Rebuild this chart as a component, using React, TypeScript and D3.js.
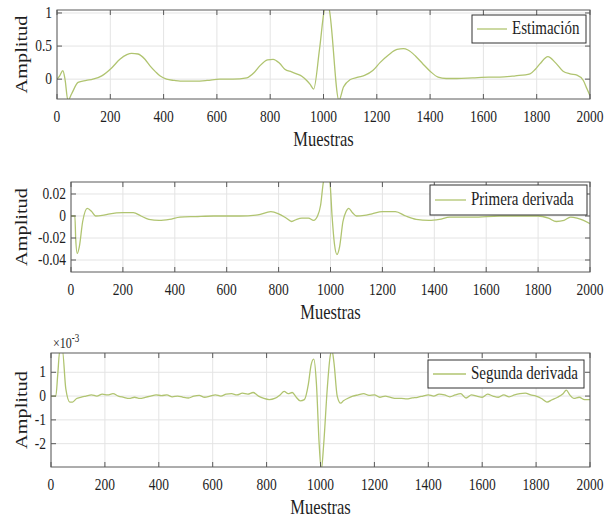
import React from "react";
import * as d3 from "d3";

// ---------- data ----------
const xTicks = [0, 200, 400, 600, 800, 1000, 1200, 1400, 1600, 1800, 2000];

const estTicks = [0, 0.5, 1];
const estTickLabels = ["0", "0.5", "1"];
const estX = [0, 10, 22, 30, 41, 55, 79, 110, 135, 168, 205, 236, 262, 280, 304, 330, 349, 370, 386, 411, 440, 462, 520, 563, 611, 660, 712, 740, 761, 790, 811, 835, 855, 880, 899, 920, 937, 950, 963, 985, 1005, 1012, 1020, 1058, 1075, 1099, 1130, 1156, 1185, 1212, 1245, 1276, 1300, 1317, 1345, 1373, 1400, 1430, 1460, 1501, 1560, 1620, 1662, 1720, 1775, 1795, 1812, 1842, 1870, 1899, 1925, 1951, 1975, 1989, 2000];
const estY = [0, 0.05, 0.13, 0.0, -0.32, -0.22, -0.05, -0.02, 0.0, 0.05, 0.17, 0.3, 0.37, 0.39, 0.38, 0.3, 0.2, 0.11, 0.05, 0.0, -0.02, -0.03, -0.03, -0.02, 0.0, 0.0, 0.02, 0.1, 0.2, 0.29, 0.3, 0.24, 0.15, 0.11, 0.08, 0.04, -0.02, -0.08, -0.15, 0.45, 1.08, 1.12, 1.08, -0.32, -0.12, -0.01, 0.03, 0.06, 0.13, 0.25, 0.37, 0.45, 0.46, 0.44, 0.35, 0.23, 0.12, 0.03, 0.01, 0.01, 0.02, 0.03, 0.03, 0.05, 0.08, 0.15, 0.23, 0.34, 0.25, 0.12, 0.08, 0.06, -0.02, -0.15, -0.25];

const d1Ticks = [-0.04, -0.02, 0, 0.02];
const d1TickLabels = ["-0.04", "-0.02", "0", "0.02"];
const d1X = [0, 15, 18, 24, 32, 45, 63, 80, 95, 120, 150, 200, 240, 270, 300, 340, 380, 420, 480, 550, 650, 720, 770, 800, 830, 850, 870, 890, 915, 935, 950, 962, 972, 985, 998, 1006, 1015, 1025, 1035, 1048, 1060, 1070, 1085, 1100, 1130, 1160, 1200, 1250, 1290, 1330, 1380, 1420, 1460, 1550, 1650, 1750, 1800, 1840, 1870, 1900, 1925, 1950, 1975, 2000];
const d1Y = [0, 0, -0.02, -0.034, -0.028, -0.005, 0.007, 0.004, 0.0, 0.0005, 0.002, 0.003, 0.003, 0.0, -0.003, -0.004, -0.003, -0.001, -0.0005, 0.0, 0.0, 0.001, 0.004, 0.002, -0.002, -0.005, -0.003, -0.002, -0.002, -0.004, 0.0, 0.01, 0.03, 0.04, 0.03, 0.0, -0.025, -0.035, -0.028, -0.005, 0.004, 0.007, 0.003, 0.0, 0.0005, 0.002, 0.004, 0.004, 0.0, -0.003, -0.004, -0.003, -0.001, -0.001, 0.0, 0.0, 0.0, -0.002, -0.005, -0.004, -0.001, -0.002, -0.004, -0.007];

// second derivative, in units of 1e-3
const d2Ticks = [-2, -1, 0, 1];
const d2TickLabels = ["-2", "-1", "0", "1"];
const d2X = [0, 18, 25, 33, 42, 55, 70, 80, 95, 110, 130, 150, 170, 190, 210, 230, 250, 270, 290, 310, 330, 350, 370, 390, 410, 430, 450, 470, 490, 510, 530, 550, 570, 590, 610, 630, 650, 670, 690, 710, 730, 750, 770, 790, 810, 830, 850, 865, 880, 895, 910, 925, 940, 955, 965, 975, 985, 995, 1003, 1012, 1025, 1035, 1042, 1050, 1062, 1075, 1085, 1100, 1120, 1140, 1160, 1180, 1200, 1220, 1240, 1260, 1280, 1300, 1320, 1340, 1360, 1380, 1400, 1420, 1440, 1460, 1480, 1500, 1520, 1540, 1560, 1580, 1600, 1620, 1640, 1660, 1680, 1700, 1720, 1740, 1760, 1780, 1800, 1820, 1840, 1860, 1880, 1900, 1912, 1925, 1940, 1960, 1980, 2000];
const d2Y = [0, 0, 0.9, 1.95, 1.95, 0.3, -0.25, -0.25, -0.1, -0.05, 0.0, 0.05, 0.0, 0.08, 0.05, 0.1, 0.0, -0.05, -0.1, -0.05, -0.1, -0.05, 0.0, 0.05, 0.02, 0.05, -0.03, 0.0, -0.05, -0.08, 0.0, 0.03, -0.05, 0.0, 0.05, 0.0, 0.08, 0.1, 0.05, 0.12, 0.08, 0.15, 0.0, -0.1, -0.15, -0.1, 0.05, 0.2, 0.1, 0.15, -0.05, -0.2, -0.15, 0.5, 1.3, 1.55, 0.5, -2.0, -3.1, -2.0, 0.3, 1.6, 1.95, 1.4, 0.0, -0.3, -0.2, -0.1, 0.0, 0.05, 0.1, 0.03, 0.05, -0.05, 0.0, -0.05, -0.1, -0.1, -0.12, -0.08, -0.05, 0.0, 0.05, 0.0, 0.08, 0.05, -0.03, 0.05, 0.1, -0.08, 0.05, 0.0, -0.05, 0.08, 0.0, -0.05, 0.05, -0.03, 0.05, 0.1, 0.12, 0.05, 0.0, -0.1, -0.25, -0.15, -0.05, 0.1, 0.25, 0.05, -0.1, -0.05, -0.15, -0.15];

// ---------- layout / style ----------
const W = 607;
const H = 521;
const FONT = "Liberation Serif, DejaVu Serif, serif";
const SY = 1.27;
const LINE = "#b0c470";
const AXIS = "#5a5a5a";
const GRID = "#e4e4e4";
const TXT = "#1e1e1e";

type Panel = {
  left: number; right: number; top: number; bottom: number;
  yDomain: [number, number];
  xs: number[]; ys: number[];
  yTicks: number[]; yLabels: string[];
  legend: string;
  lg: { x: number; y: number; w: number; h: number; lineW: number };
  exponent?: boolean;
};

const panels: Panel[] = [
  {
    left: 57, right: 590, top: 10, bottom: 99, yDomain: [-0.3, 1.045],
    xs: estX, ys: estY, yTicks: estTicks, yLabels: estTickLabels, legend: "Estimación",
    lg: { x: 472, y: 15, w: 114, h: 28, lineW: 30 },
  },
  {
    left: 71, right: 590, top: 182, bottom: 272, yDomain: [-0.0509, 0.0309],
    xs: d1X, ys: d1Y, yTicks: d1Ticks, yLabels: d1TickLabels, legend: "Primera derivada",
    lg: { x: 430, y: 185, w: 157, h: 30, lineW: 31 },
  },
  {
    left: 51, right: 590, top: 353, bottom: 467, yDomain: [-2.98, 1.81],
    xs: d2X, ys: d2Y, yTicks: d2Ticks, yLabels: d2TickLabels, legend: "Segunda derivada",
    lg: { x: 428, y: 360, w: 156, h: 28, lineW: 33 },
    exponent: true,
  },
];

function T(props: { x: number; y: number; size: number; anchor?: string; rotate?: boolean; children: React.ReactNode }) {
  const { x, y, size, anchor = "middle", rotate = false, children } = props;
  const tr = rotate
    ? `translate(${x},${y}) rotate(-90) scale(${SY},1)`
    : `translate(${x},${y}) scale(1,${SY})`;
  return (
    <text transform={tr} textAnchor={anchor} fill={TXT} style={{ fontFamily: FONT, fontSize: size }}>
      {children}
    </text>
  );
}

function PanelView({ p, idx }: { p: Panel; idx: number }) {
  const x = d3.scaleLinear().domain([0, 2000]).range([p.left, p.right]);
  const y = d3.scaleLinear().domain(p.yDomain).range([p.bottom, p.top]);
  const pts: [number, number][] = p.xs.map((v, i) => [v, p.ys[i]]);
  const line = d3
    .line<[number, number]>()
    .x((d) => x(d[0]))
    .y((d) => y(d[1]))
    .curve(d3.curveMonotoneX);
  const clipId = `clip${idx}`;
  const tl = 5;
  const cy = (p.top + p.bottom) / 2;
  return (
    <g>
      <defs>
        <clipPath id={clipId}>
          <rect x={p.left} y={p.top} width={p.right - p.left} height={p.bottom - p.top} />
        </clipPath>
      </defs>
      <rect x={p.left} y={p.top} width={p.right - p.left} height={p.bottom - p.top} fill="#fff" />
      {xTicks.map((t) => (
        <line key={"gx" + t} x1={x(t)} x2={x(t)} y1={p.top} y2={p.bottom} stroke={GRID} strokeWidth={1} />
      ))}
      {p.yTicks.map((t) => (
        <line key={"gy" + t} x1={p.left} x2={p.right} y1={y(t)} y2={y(t)} stroke={GRID} strokeWidth={1} />
      ))}
      <path d={line(pts) || ""} fill="none" stroke={LINE} strokeWidth={1.3} clipPath={`url(#${clipId})`} />
      <rect x={p.left} y={p.top} width={p.right - p.left} height={p.bottom - p.top} fill="none" stroke={AXIS} strokeWidth={1} />
      {xTicks.map((t) => (
        <g key={"tx" + t}>
          <line x1={x(t)} x2={x(t)} y1={p.bottom} y2={p.bottom - tl} stroke={AXIS} />
          <line x1={x(t)} x2={x(t)} y1={p.top} y2={p.top + tl} stroke={AXIS} />
        </g>
      ))}
      {p.yTicks.map((t) => (
        <g key={"ty" + t}>
          <line x1={p.left} x2={p.left + tl} y1={y(t)} y2={y(t)} stroke={AXIS} />
          <line x1={p.right} x2={p.right - tl} y1={y(t)} y2={y(t)} stroke={AXIS} />
        </g>
      ))}
      {xTicks.map((t) => (
        <T key={"lx" + t} x={x(t)} y={p.bottom + 23} size={13.5}>
          {String(t)}
        </T>
      ))}
      {p.yTicks.map((t, i) => (
        <T key={"ly" + t} x={p.left - 5} y={y(t) + 5} size={13.5} anchor="end">
          {p.yLabels[i]}
        </T>
      ))}
      <T x={(p.left + p.right) / 2} y={p.bottom + 47} size={16.5}>
        Muestras
      </T>
      <T x={27} y={cy} size={16} rotate>
        Amplitud
      </T>
      {p.exponent && (
        <g transform={`translate(${p.left + 2},${p.top - 5}) scale(1,${SY})`}>
          <text fill={TXT} style={{ fontFamily: FONT, fontSize: 12 }}>
            ×10
            <tspan style={{ fontSize: 9 }} dy={-5}>
              -3
            </tspan>
          </text>
        </g>
      )}
      <rect x={p.lg.x} y={p.lg.y} width={p.lg.w} height={p.lg.h} fill="#fff" stroke="#333" strokeWidth={1} />
      <line
        x1={p.lg.x + 5}
        x2={p.lg.x + 5 + p.lg.lineW}
        y1={p.lg.y + p.lg.h / 2}
        y2={p.lg.y + p.lg.h / 2}
        stroke={LINE}
        strokeWidth={1.3}
      />
      <T x={p.lg.x + p.lg.lineW + 10} y={p.lg.y + p.lg.h / 2 + 5} size={15} anchor="start">
        {p.legend}
      </T>
    </g>
  );
}

export default function App() {
  return (
    <svg width={W} height={H} style={{ position: "absolute", left: 0, top: 0, background: "#fff" }}>
      <rect x={0} y={0} width={W} height={H} fill="#fff" />
      {panels.map((p, i) => (
        <PanelView key={i} p={p} idx={i} />
      ))}
    </svg>
  );
}
